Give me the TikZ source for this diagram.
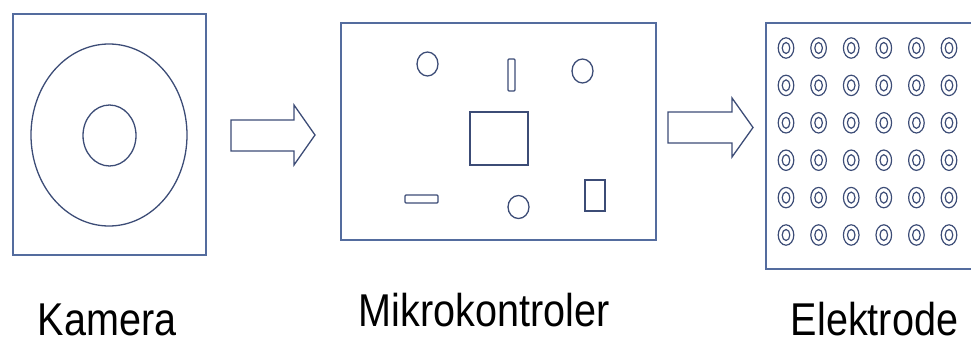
\documentclass[tikz,border=0pt]{standalone}
\usepackage{fontspec}
\setmainfont{Liberation Sans}
\definecolor{boxc}{RGB}{84,108,158}
\definecolor{shapec}{RGB}{60,76,118}
\tikzset{
  frame/.style={draw=boxc, line width=1.5pt},
  part/.style={draw=shapec, line width=1.3pt},
  ring/.style={draw=shapec, line width=1.2pt},
  blockarrow/.style={draw=shapec, line width=1.3pt, line join=miter},
  label/.style={inner sep=0pt, anchor=base, font=\fontsize{46}{50}\selectfont},
}
\newcommand{\lbl}[1]{\scalebox{0.86}[1]{#1}}
\begin{document}
\begin{tikzpicture}[x=1pt,y=-1pt]
\useasboundingbox (0,0) rectangle (971,340);
\clip (0,0) rectangle (971,340);
% Kamera
\draw[frame] (13,14) rectangle (206,255);
\draw[part] (109,135) ellipse [x radius=78, y radius=91];
\draw[part] (109.5,135.5) ellipse [x radius=26.5, y radius=30.5];
% arrow 1
\draw[blockarrow] (231,120) -- (294,120) -- (294,105) -- (315,135) -- (294,165) -- (294,151) -- (231,151) -- cycle;
% Mikrokontroler
\draw[frame] (341,23) rectangle (656,240);
\draw[part] (427.5,64) ellipse [x radius=10.5, y radius=12];
\draw[part, rounded corners=1pt] (508,59) rectangle (515,91);
\draw[part] (582.5,71) ellipse [x radius=10.5, y radius=12];
\draw[part] (470,112) rectangle (528,165);
\draw[part, rounded corners=1pt] (405,195) rectangle (438,203);
\draw[part] (518.5,207) ellipse [x radius=10.5, y radius=11.5];
\draw[part] (585,180) rectangle (605,211);
% arrow 2
\draw[blockarrow] (668,112) -- (732,112) -- (732,98) -- (753,127.5) -- (732,157) -- (732,143) -- (668,143) -- cycle;
% Elektrode
\draw[frame] (766,23) rectangle (990,269);
\foreach \cx in {786,818.6,851.2,883.8,916.4,949}
  \foreach \cy in {48,85.4,122.8,160.2,197.6,235}
  {
    \draw[ring] (\cx,\cy) ellipse [x radius=7.8, y radius=10.2];
    \draw[ring] (\cx,\cy) ellipse [x radius=3.8, y radius=5.5];
  }
% labels
\node[label] (kamera) at (107,335) {\lbl{Kamera}};
\node[label] (mikro) at (484,326) {\lbl{Mikrokontroler}};
\node[label] (elek) at (874.5,335) {\lbl{Elektrode}};
\end{tikzpicture}
\end{document}
